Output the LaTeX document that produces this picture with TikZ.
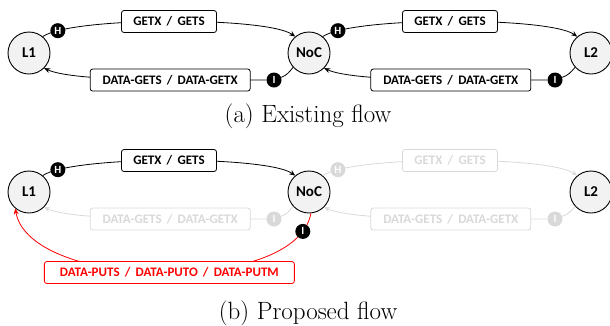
\documentclass[tikz,border=0pt]{standalone}
\usepackage{fontspec}
\newfontfamily\carl{Carlito}
\usetikzlibrary{arrows.meta}
\definecolor{nodefill}{HTML}{F2F2F2}
\definecolor{fade}{HTML}{D9D9D9}
\definecolor{redc}{HTML}{FF0000}
\newcommand\slsep{\hspace{0.4em}/\hspace{0.4em}}
\tikzset{
  agent/.style={circle, draw=black, line width=0.9pt, fill=nodefill, minimum size=42pt, inner sep=0pt, font=\carl\bfseries\fontsize{15}{17}\selectfont},
  msg/.style={rounded corners=2.5pt, draw=black, line width=0.8pt, fill=white, minimum height=22pt, inner sep=0pt, font=\carl\bfseries\fontsize{13}{15}\selectfont},
  badge/.style={circle, fill=black, text=white, minimum size=15pt, inner sep=0pt, font=\carl\bfseries\fontsize{11}{12}\selectfont},
  flow/.style={line width=0.8pt, -{Stealth[length=6pt,width=5pt]}},
  faded/.style={draw=fade, text=fade},
  fadedbadge/.style={fill=fade, text=white},
  topflow/.style={out=35, in=145, out distance=35pt, in distance=35pt},
  dropflow/.style={out=-130, in=20},
  botflow/.style={out=180, in=-25, out distance=50pt, in distance=35pt},
  captext/.style={font=\fontsize{25}{28}\selectfont, inner sep=0pt}
}
\begin{document}
\begin{tikzpicture}[x=1pt, y=-1pt]
\useasboundingbox (0,0) rectangle (610,325);
% ---------- (a) ----------
\node[agent] (L1a) at (29,53) {L1};
\node[agent] (NoCa) at (309,53) {NoC};
\node[agent] (L2a) at (591,53) {L2};
\node[badge] (IaL) at (274,80) {I};
\node[badge] (IaR) at (555,80) {I};
\draw[flow] (L1a.50) to[topflow]
  node[pos=0.11, badge] {H}
  node[pos=0.5, msg, minimum width=95pt] {GETX\slsep GETS} (NoCa.130);
\draw[flow] (NoCa.-138) to[dropflow] (IaL) to[botflow]
  node[pos=0.42, msg, minimum width=160pt] {DATA-GETS\slsep DATA-GETX} (L1a.-45);
\draw[flow] (NoCa.50) to[topflow]
  node[pos=0.11, badge] {H}
  node[pos=0.5, msg, minimum width=95pt] {GETX\slsep GETS} (L2a.130);
\draw[flow] (L2a.-138) to[dropflow] (IaR) to[botflow]
  node[pos=0.42, msg, minimum width=160pt] {DATA-GETS\slsep DATA-GETX} (NoCa.-45);
\node[captext] (capa) at (308,116) {(a) Existing flow};
% ---------- (b) ----------
\node[agent] (L1b) at (29,192) {L1};
\node[agent] (NoCb) at (309,192) {NoC};
\node[agent] (L2b) at (591,192) {L2};
\node[badge, fadedbadge] (IbL) at (274,219) {I};
\node[badge, fadedbadge] (IbR) at (555,219) {I};
\draw[flow] (L1b.50) to[topflow]
  node[pos=0.11, badge] {H}
  node[pos=0.5, msg, minimum width=95pt] {GETX\slsep GETS} (NoCb.130);
\draw[flow, draw=fade] (NoCb.-138) to[dropflow] (IbL) to[botflow]
  node[pos=0.42, msg, faded, minimum width=160pt] {DATA-GETS\slsep DATA-GETX} (L1b.-45);
\draw[flow, draw=fade] (NoCb.50) to[topflow]
  node[pos=0.11, badge, fadedbadge] {H}
  node[pos=0.5, msg, faded, minimum width=95pt] {GETX\slsep GETS} (L2b.130);
\draw[flow, draw=fade] (L2b.-138) to[dropflow] (IbR) to[botflow]
  node[pos=0.42, msg, faded, minimum width=160pt] {DATA-GETS\slsep DATA-GETX} (NoCb.-45);
\draw[flow, draw=redc] (NoCb.-85) to[out=-100, in=-80, looseness=0.72]
  node[pos=0.08, badge] {I}
  node[pos=0.485, msg, draw=redc, text=redc, minimum width=250pt] {DATA-PUTS\slsep DATA-PUTO\slsep DATA-PUTM} (L1b.-130);
\node[captext] (capb) at (308,313) {(b) Proposed flow};
\end{tikzpicture}
\end{document}
